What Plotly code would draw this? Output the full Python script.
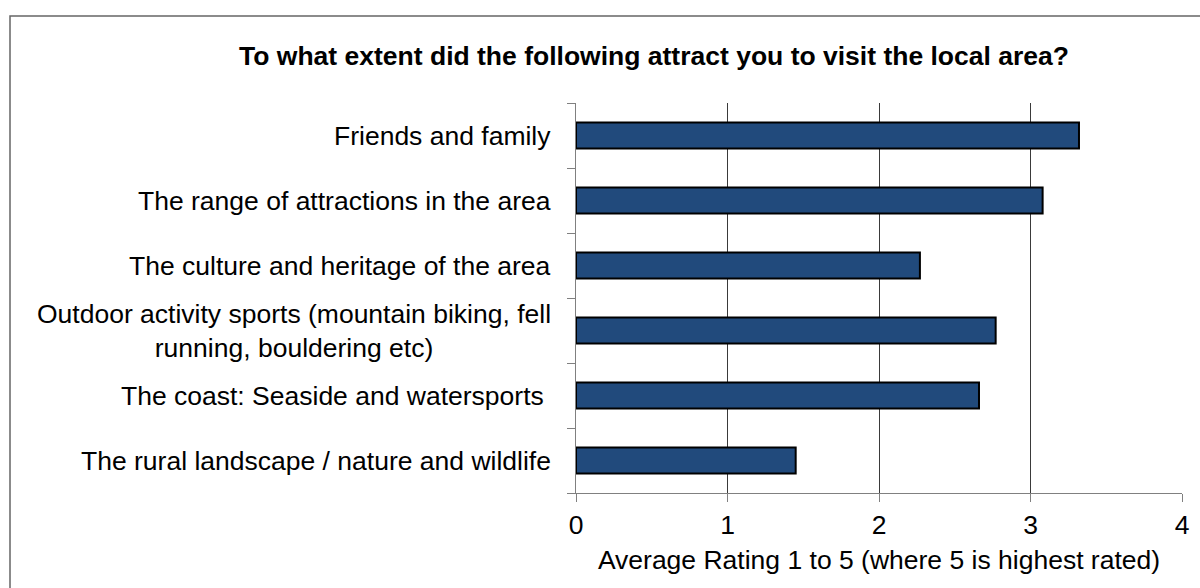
import plotly.graph_objects as go

# Survey question and attractors, listed top to bottom
title_text = "To what extent did the following attract you to visit the local area?"
categories = [
    "Friends and family",
    "The range of attractions in the area",
    "The culture and heritage of the area",
    "Outdoor activity sports (mountain biking, fell<br>running, bouldering etc)",
    "The coast: Seaside and watersports ",
    "The rural landscape / nature and wildlife",
]
ratings = [3.32, 3.08, 2.27, 2.77, 2.66, 1.45]
x_ticks = [0, 1, 2, 3, 4]
x_title = "Average Rating 1 to 5 (where 5 is highest rated)"

W, H = 1200, 588
L, R, T, B = 576, 18, 103, 95
FONT = "Liberation Sans, Arial, sans-serif"
FS = 26.5

fig = go.Figure(
    go.Bar(
        x=ratings,
        y=categories,
        orientation="h",
        marker=dict(color="#214A7C", line=dict(color="#000000", width=2)),
        width=0.40,
    )
)

# Category labels drawn as centred text blocks to the left of the axis
for cat in categories:
    fig.add_annotation(
        x=0, xref="paper", y=cat, yref="y",
        text=cat, showarrow=False, xanchor="right", yanchor="middle",
        align="center", xshift=-23,
        font=dict(family=FONT, size=FS, color="#000000"),
    )

pw = W - L - R
ph = H - T - B
# Outer chart frame
fig.add_shape(
    type="rect", xref="paper", yref="paper",
    x0=(10 - L) / pw, x1=(1230 - L) / pw,
    y0=(H - B - 640) / ph, y1=(H - B - 16) / ph,
    line=dict(color="#666666", width=1.5), fillcolor="rgba(0,0,0,0)", layer="below",
)

fig.update_layout(
    width=W, height=H,
    margin=dict(l=L, r=R, t=T, b=B),
    paper_bgcolor="white", plot_bgcolor="white",
    showlegend=False,
    font=dict(family=FONT, color="#000000"),
    title=dict(
        text="<b>" + title_text + "</b>",
        x=654 / W, xanchor="center", xref="container",
        y=1 - 56 / H, yanchor="middle", yref="container",
        font=dict(family=FONT, size=FS, color="#000000"),
    ),
    xaxis=dict(
        range=[0, 4], tickvals=x_ticks, ticktext=[str(v) for v in x_ticks],
        showgrid=True, gridcolor="#3a3a3a", gridwidth=1,
        showline=True, linecolor="#808080", linewidth=1,
        ticks="outside", ticklen=8, tickcolor="#808080",
        tickfont=dict(family=FONT, size=FS),
        title=dict(text=x_title, font=dict(family=FONT, size=FS), standoff=11),
        zeroline=False,
    ),
    yaxis=dict(
        categoryorder="array", categoryarray=categories[::-1],
        showticklabels=False,
        showline=True, linecolor="#808080", linewidth=1,
        ticks="outside", ticklen=8, tickcolor="#808080", tickson="boundaries",
        showgrid=False,
    ),
)

fig.write_html("out.html")
